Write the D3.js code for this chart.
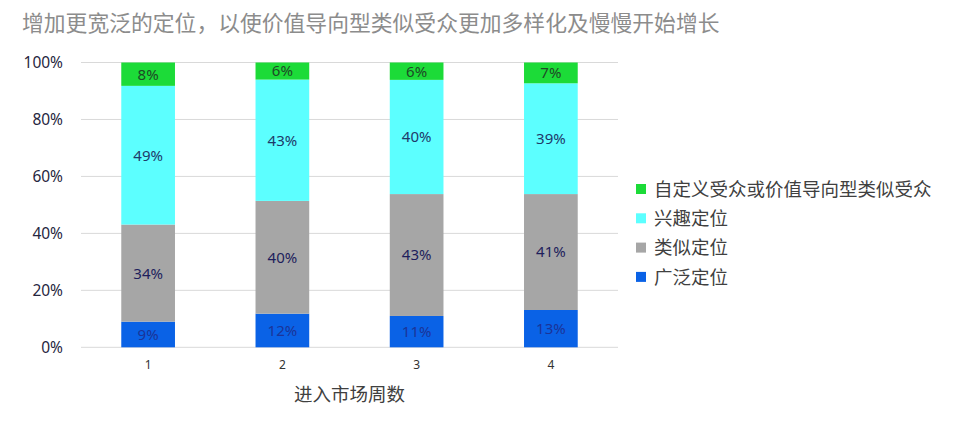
<!DOCTYPE html>
<html><head><meta charset="utf-8">
<script src="https://cdn.jsdelivr.net/npm/d3@7"></script>
<style>
html,body{margin:0;padding:0;background:#fff;}
svg{display:block;}
text{font-family:"Noto Sans","Noto Sans CJK SC",sans-serif;}
</style></head>
<body>
<svg id="chart" width="960" height="433"></svg>
<script>
const title = "增加更宽泛的定位，以使价值导向型类似受众更加多样化及慢慢开始增长";
const xTitle = "进入市场周数";
const categories = ["1", "2", "3", "4"];
const seriesNames = ["广泛定位", "类似定位", "兴趣定位", "自定义受众或价值导向型类似受众"];
const broad     = [9.0, 11.8, 11.0, 13.1];
const lookalike = [34.1, 39.6, 42.8, 40.7];
const interest  = [48.7, 42.6, 40.1, 38.9];
const custom    = [8.2, 6.0, 6.1, 7.3];
const yTicks = [0, 0.2, 0.4, 0.6, 0.8, 1.0];

const colors = ["#0A62E6", "#A6A6A6", "#5CFFFF", "#1CDB38"];
const labelColors = ["#1B3499", "#1E1E5C", "#1F3A6A", "#1E4A26"];

const seriesValues = [broad, lookalike, interest, custom];
const rows = categories.map((c, i) => {
  const r = {cat: c};
  seriesNames.forEach((s, j) => r[s] = seriesValues[j][i] / 100);
  return r;
});
const stack = d3.stack().keys(seriesNames)(rows);

const svg = d3.select("#chart");
const plot = {left: 81, right: 618, top: 62.5, bottom: 347.3};

const x = d3.scaleBand().domain(categories).range([plot.left, plot.right])
  .paddingInner(0.6).paddingOuter(0.3);
const y = d3.scaleLinear().domain([0, 1]).range([plot.bottom, plot.top]);

// title
svg.append("text").attr("x", 22).attr("y", 31)
  .attr("font-size", 21.8).attr("fill", "#8C8C8C").text(title);

// gridlines
svg.append("g").selectAll("line").data(yTicks).join("line")
  .attr("x1", plot.left).attr("x2", plot.right)
  .attr("y1", d => y(d)).attr("y2", d => y(d))
  .attr("stroke", "#D9D9D9").attr("stroke-width", 1);

// y axis
const yAxis = d3.axisLeft(y).tickValues(yTicks).tickFormat(d3.format(".0%")).tickSize(0).tickPadding(18);
const gy = svg.append("g").attr("transform", `translate(${plot.left},0)`).call(yAxis);
gy.select(".domain").remove();
gy.selectAll("text").attr("font-size", 15.5).attr("fill", "#262640")
  .attr("font-family", "'Noto Sans',sans-serif");

// x axis
const xAxis = d3.axisBottom(x).tickSize(0).tickPadding(13);
const gx = svg.append("g").attr("transform", `translate(0,${plot.bottom})`).call(xAxis);
gx.select(".domain").remove();
gx.selectAll("text").attr("font-size", 12).attr("fill", "#333")
  .attr("font-family", "'Noto Sans',sans-serif");

// x title
svg.append("text").attr("x", (plot.left + plot.right) / 2).attr("y", 401)
  .attr("text-anchor", "middle").attr("font-size", 18.5).attr("fill", "#404040").text(xTitle);

// bars
const layers = svg.append("g").selectAll("g").data(stack).join("g")
  .attr("fill", (d, i) => colors[i]);
layers.selectAll("rect").data(d => d).join("rect")
  .attr("x", d => x(d.data.cat)).attr("width", x.bandwidth())
  .attr("y", d => y(d[1])).attr("height", d => y(d[0]) - y(d[1]));

// labels
const lbl = svg.append("g").selectAll("g").data(stack).join("g")
  .attr("fill", (d, i) => labelColors[i]);
lbl.selectAll("text").data(d => d).join("text")
  .attr("x", d => x(d.data.cat) + x.bandwidth() / 2)
  .attr("y", d => (y(d[0]) + y(d[1])) / 2)
  .attr("dy", "0.36em").attr("text-anchor", "middle").attr("font-size", 15)
  .text(d => Math.round((d[1] - d[0]) * 100) + "%");

// legend
const legendOrder = seriesNames.map((s, i) => i).reverse();
const lg = svg.append("g").selectAll("g").data(legendOrder).join("g")
  .attr("transform", (d, k) => `translate(636,${189 + k * 29.3})`);
lg.append("rect").attr("x", 0).attr("y", -5).attr("width", 10).attr("height", 10)
  .attr("fill", d => colors[d]);
lg.append("text").attr("x", 18).attr("y", 0).attr("dy", "0.36em")
  .attr("font-size", 18.5).attr("fill", "#404040").text(d => seriesNames[d]);
</script>
</body></html>
